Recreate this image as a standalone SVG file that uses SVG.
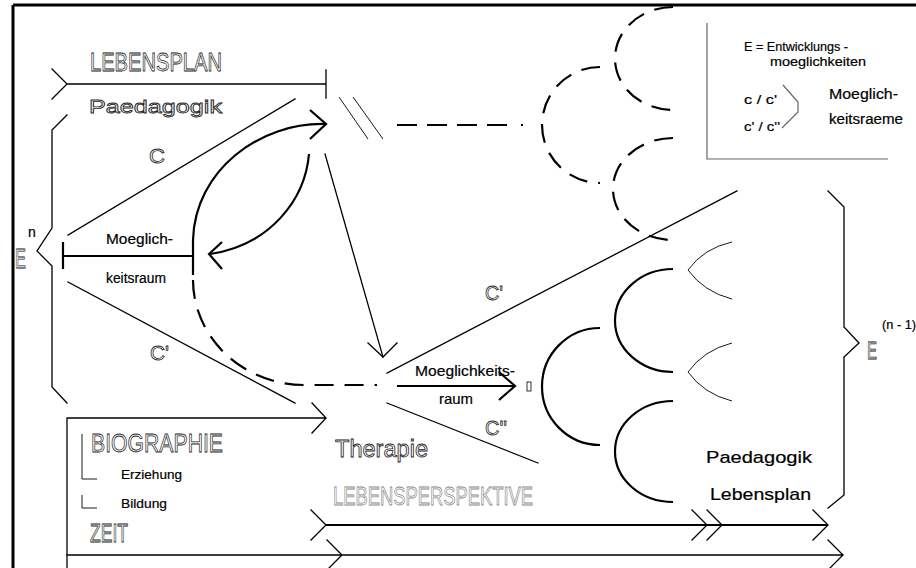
<svg xmlns="http://www.w3.org/2000/svg" width="916" height="568" viewBox="0 0 916 568">
<style>
  .ln{fill:none;stroke:#000;stroke-width:1.3;stroke-linecap:square}
  .th{fill:none;stroke:#000;stroke-width:2.2}
  .da{fill:none;stroke:#000;stroke-width:2.2;stroke-dasharray:19 11}
  .hl{fill:none;stroke:#000;stroke-width:0.9}
  .gr{fill:none;stroke:#666;stroke-width:1.2}
  .o{font-family:"Liberation Sans",Arial,sans-serif;fill:none;stroke:#222;stroke-width:0.8;opacity:0.99}
  .og{font-family:"Liberation Sans",Arial,sans-serif;fill:none;stroke:#888;stroke-width:0.8;opacity:0.99}
  .b{font-family:"Liberation Sans",Arial,sans-serif;fill:#000;stroke:#000;stroke-width:0.2}
</style>
<rect width="916" height="568" fill="#fff"/>
<g id="frame" fill="none" stroke="#000" stroke-width="3">
  <path d="M13,5 L916,5 M13,5 L13,568"/>
</g>

<g id="lebensplan">
  <path class="ln" d="M52,69 L67,84 L52,99 M67,84 L326,84 M326,70 L326,98"/>
  <text class="o" x="90" y="71" font-size="26" textLength="132" lengthAdjust="spacingAndGlyphs">LEBENSPLAN</text>
</g>
<g id="paedagogik-top">
  <text class="o" x="89" y="113" font-size="19" textLength="133" lengthAdjust="spacingAndGlyphs">Paedagogik</text>
</g>

<g id="En">
  <path class="ln" d="M67,115 L52,130 L52,228 L37,251 L52,266 L52,387 L67,403"/>
  <text class="o" x="15" y="268" font-size="28" textLength="11" lengthAdjust="spacingAndGlyphs">E</text>
  <text class="b" x="28" y="237" font-size="14">n</text>
</g>

<g id="moeglichkeitsraum-left">
  <path class="th" d="M63,242 L63,269 M63,256 L193,256"/>
  <text class="b" x="106" y="244" font-size="14" textLength="67" lengthAdjust="spacingAndGlyphs">Moeglich-</text>
  <text class="b" x="106" y="283" font-size="14" textLength="60" lengthAdjust="spacingAndGlyphs">keitsraum</text>
</g>

<g id="connectors">
  <path class="ln" d="M68,235 L295,99"/>
  <path class="ln" d="M68,282 L295,403"/>
  <path class="th" d="M193,275 L193,240 C195,170 260,122 326,124"/>
  <path class="th" d="M310,110 L326,124 L310,139"/>
  <path class="da" d="M193,280 C193,335 240,385 305,385 L377,385"/>
  <path class="th" d="M309,154 C305,200 270,245 210,254"/>
  <path class="th" d="M222,242 L209,254 L222,269"/>
  <path class="ln" d="M325,154 L383,357"/>
  <path class="ln" d="M368,343 L383,357 L397,343"/>
  <path class="hl" d="M339,97 L368,139 M353,97 L383,139"/>
  <path class="th" d="M397,125 L508,125" stroke-dasharray="20 10"/>
  <rect x="521" y="124" width="2" height="2" fill="#000"/>
  <path class="ln" d="M387,373 L737,191"/>
  <path class="ln" d="M387,403 L538,463"/>
  <path class="th" d="M397,386 L515,386 M499,372 L515,386 L499,400"/>
</g>

<g id="labels-c">
  <text class="o" x="149" y="163" font-size="21" textLength="16" lengthAdjust="spacingAndGlyphs">C</text>
  <text class="o" x="150" y="360" font-size="21" textLength="19" lengthAdjust="spacingAndGlyphs">C'</text>
  <text class="o" x="485" y="300" font-size="21" textLength="18" lengthAdjust="spacingAndGlyphs">C'</text>
  <text class="o" x="485" y="435" font-size="21" textLength="22" lengthAdjust="spacingAndGlyphs">C''</text>
</g>

<g id="moeglichkeitsraum-center">
  <text class="b" x="415" y="376" font-size="14" textLength="100" lengthAdjust="spacingAndGlyphs">Moeglichkeits-</text>
  <text class="b" x="439" y="404" font-size="15" textLength="34" lengthAdjust="spacingAndGlyphs">raum</text>
  <rect x="527" y="382" width="4" height="9" fill="none" stroke="#000" stroke-width="0.8"/>
</g>

<g id="dashed-arcs">
  <path class="da" d="M600,67 A58,58 0 0 0 600,183"/>
  <path class="da" d="M673,7 A58,51.5 0 0 0 673,110"/>
  <path class="da" d="M673,138 A60,51 0 0 0 673,240"/>
</g>

<g id="solid-arcs">
  <path class="th" d="M600,328 A58,58.5 0 0 0 600,445"/>
  <path class="th" d="M673,269 A58,51.5 0 0 0 673,372"/>
  <path class="th" d="M673,401 A58,50.5 0 0 0 673,502"/>
</g>

<g id="lenses">
  <path class="hl" d="M732,242 Q704,248 688,270 Q704,292 732,299"/>
  <path class="hl" d="M732,343 Q704,350 688,372 Q704,394 732,401"/>
</g>

<g id="En-1">
  <path class="ln" d="M828,191 L844,207 L844,327 L859,343 L844,357 L844,495 L828,508"/>
  <text class="o" x="867" y="359" font-size="24" textLength="10" lengthAdjust="spacingAndGlyphs">E</text>
  <text class="b" x="882" y="329" font-size="13" textLength="34" lengthAdjust="spacingAndGlyphs">(n - 1)</text>
</g>

<g id="legend">
  <path class="gr" d="M707,23 L707,159 L888,159"/>
  <path class="gr" d="M783,85 L798,102 L798,112 L782,128" stroke-width="0.9"/>
  <text class="b" x="744" y="51" font-size="13" textLength="104" lengthAdjust="spacingAndGlyphs">E = Entwicklungs -</text>
  <text class="b" x="770" y="66" font-size="13" textLength="96" lengthAdjust="spacingAndGlyphs">moeglichkeiten</text>
  <text class="b" x="744" y="104" font-size="13" textLength="33" lengthAdjust="spacingAndGlyphs">c / c'</text>
  <text class="b" x="744" y="131" font-size="13" textLength="36" lengthAdjust="spacingAndGlyphs">c' / c''</text>
  <text class="b" x="829" y="99" font-size="14" textLength="69" lengthAdjust="spacingAndGlyphs">Moeglich-</text>
  <text class="b" x="829" y="124" font-size="14" textLength="74" lengthAdjust="spacingAndGlyphs">keitsraeme</text>
</g>

<g id="biographie">
  <path class="ln" d="M67,418 L326,418 M312,403 L326,418 L312,433 M67,418 L67,568"/>
  <path class="hl" d="M82,434 L82,479 L97,479 M82,495 L82,508 L97,508"/>
  <text class="o" x="91" y="452" font-size="26" textLength="132" lengthAdjust="spacingAndGlyphs">BIOGRAPHIE</text>
  <text class="b" x="121" y="479" font-size="13" textLength="61" lengthAdjust="spacingAndGlyphs">Erziehung</text>
  <text class="b" x="121" y="508" font-size="13" textLength="46" lengthAdjust="spacingAndGlyphs">Bildung</text>
  <text class="o" x="90" y="542" font-size="26" textLength="38" lengthAdjust="spacingAndGlyphs">ZEIT</text>
</g>

<g id="therapie">
  <text class="o" x="335" y="457" font-size="23" textLength="93" lengthAdjust="spacingAndGlyphs">Therapie</text>
</g>

<g id="lebensperspektive">
  <text class="og" x="333" y="505" font-size="25" textLength="200" lengthAdjust="spacingAndGlyphs">LEBENSPERSPEKTIVE</text>
  <path class="th" d="M326,525 L828,525" stroke-width="2"/>
  <path class="ln" d="M311,510 L326,525 L311,540 M692,510 L707,525 L692,540 M707,510 L722,525 L707,540 M813,510 L828,525 L813,540"/>
</g>

<g id="zeit-line">
  <path class="ln" d="M67,555 L843,555 M327,540 L342,555 L327,570 M828,540 L843,555 L828,570" stroke-width="1.5"/>
</g>

<g id="paedagogik-lebensplan">
  <text class="b" x="706" y="463" font-size="17" textLength="106" lengthAdjust="spacingAndGlyphs">Paedagogik</text>
  <text class="b" x="710" y="500" font-size="17" textLength="101" lengthAdjust="spacingAndGlyphs">Lebensplan</text>
</g>
</svg>
